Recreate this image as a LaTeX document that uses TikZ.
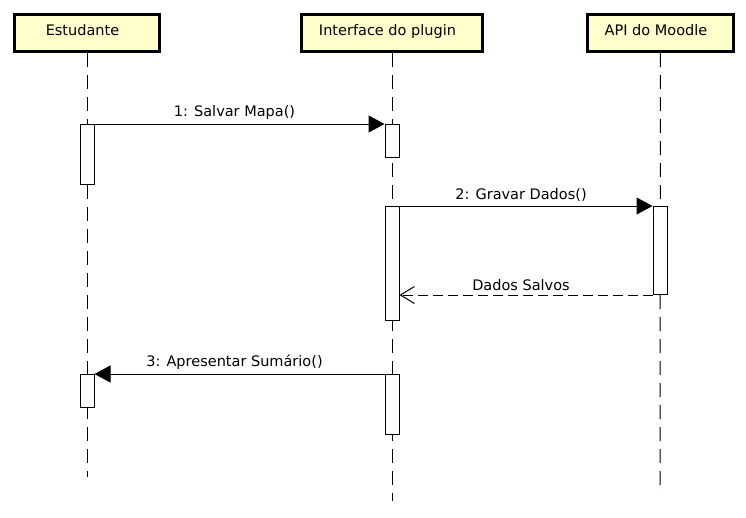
\documentclass[tikz,border=0pt]{standalone}
\usepackage{fontspec}
\setmainfont{DejaVu Sans}
\usepackage{xcolor}
\usetikzlibrary{arrows.meta}
\definecolor{headyellow}{HTML}{FFFFCC}

\begin{document}
\begin{tikzpicture}[x=1pt,y=-1pt,font=\fontsize{14.5}{17}\selectfont]
\tikzset{head/.style={draw,line width=3pt,fill=headyellow,minimum height=37pt,inner sep=0pt,
                      text height=11pt,text depth=7pt,execute at end node={\hspace{9pt}}},
         act/.style={draw,fill=white,line width=1pt,minimum width=14pt,inner sep=0pt,anchor=north},
         life/.style={line width=1pt,dash pattern=on 14pt off 8pt},
         call/.style={line width=1pt,-{Triangle[length=16pt,width=17pt]}},
         reply/.style={line width=1pt,dash pattern=on 10pt off 5pt,-{Straight Barb[length=14pt,width=17pt,line width=1pt]}},
         msg/.style={above=3pt,inner sep=1pt,xshift=-5pt}}
    \useasboundingbox (0,0) rectangle (746,517);
    % lifeline heads
    \node[head,minimum width=145pt] (estudante) at (87,33) {Estudante};
    \node[head,minimum width=181pt] (plugin) at (392,33) {Interface do plugin};
    \node[head,minimum width=146pt] (moodle) at (660.5,33) {API do Moodle};
    \coordinate (estudanteEnd) at (87,477);
    \coordinate (pluginEnd) at (392,501);
    \coordinate (moodleEnd) at (660,493);
    \draw[life] (estudante) -- (estudanteEnd);
    \draw[life] (plugin) -- (pluginEnd);
    \draw[life] (moodle) -- (moodleEnd);
    % activations
    \node[act,minimum height=60pt] (e1) at (87,124) {};
    \node[act,minimum height=33pt] (p1) at (392,124) {};
    \node[act,minimum height=114pt] (p2) at (392,206) {};
    \node[act,minimum height=88pt] (m1) at (660,206) {};
    \node[act,minimum height=60pt] (p3) at (392,374) {};
    \node[act,minimum height=33pt] (e2) at (87,374) {};
    % messages
    \draw[call] (e1.north east) -- node[msg] {1: Salvar Mapa()} (p1.north west);
    \draw[call] (p2.north east) -- node[msg] {2: Gravar Dados()} (m1.north west);
    \draw[reply] (m1.south west) -- node[msg] {Dados Salvos} (m1.south west -| p2.east);
    \draw[call] (p3.north west) -- node[msg] {3: Apresentar Sumário()} (e2.north east);
\end{tikzpicture}
\end{document}
